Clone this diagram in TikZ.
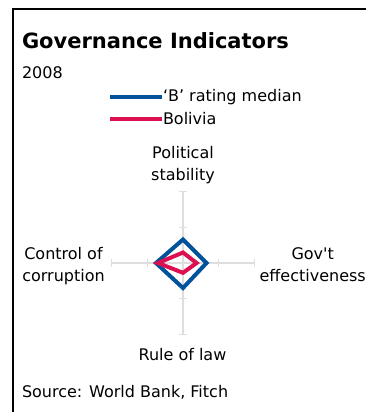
\documentclass[tikz,border=0pt]{standalone}
\usepackage{fontspec}
\setmainfont{DejaVu Sans}
\definecolor{medblue}{RGB}{0,82,155}
\definecolor{bolred}{RGB}{220,16,80}
\definecolor{axisgray}{RGB}{222,222,222}

\begin{document}
\begin{tikzpicture}[x=1pt, y=-1pt,
  every node/.style={inner sep=0pt, outer sep=0pt, font=\fontsize{16}{21.8}\selectfont},
  axisline/.style={draw=axisgray, line width=1.5pt},
  medianline/.style={draw=medblue, line width=4pt},
  bolivialine/.style={draw=bolred, line width=4pt}]
  \useasboundingbox (0,0) rectangle (366,412);

  % Frame
  \draw[line width=1.5pt] (13,412) -- (13,9) -- (366,9);

  % Title
  \node[anchor=base west, font=\fontsize{21}{25}\selectfont\bfseries] (title) at (22,48.3) {Governance Indicators};
  \node[anchor=base west] (year) at (22,78.5) {2008};

  % Legend
  \draw[medianline] (110,96.7) -- (162,96.7);
  \node[anchor=base west] (legmedian) at (163,101.7) {‘B’ rating median};
  \draw[bolivialine] (110,119) -- (162,119);
  \node[anchor=base west] (legbolivia) at (163,124.5) {Bolivia};

  % Axes
  \draw[axisline] (111.6,263) -- (254.4,263);
  \draw[axisline] (183,191.6) -- (183,334.4);
  % Ticks (horizontal axis)
  \draw[axisline] (111.6,259) -- (111.6,267);
  \draw[axisline] (147.3,259) -- (147.3,267);
  \draw[axisline] (218.7,259) -- (218.7,267);
  \draw[axisline] (254.4,259) -- (254.4,267);
  % Ticks (vertical axis)
  \draw[axisline] (179,191.6) -- (187,191.6);
  \draw[axisline] (179,227.3) -- (187,227.3);
  \draw[axisline] (179,298.7) -- (187,298.7);
  \draw[axisline] (179,334.4) -- (187,334.4);

  % Axis labels (base = last line)
  \node[anchor=base, align=center] (polstab) at (183,180) {Political\\stability};
  \node[anchor=base, align=center] (corrupt) at (63.5,281.5) {Control of\\corruption};
  \node[anchor=base, align=center] (goveff) at (312.7,281.5) {Gov\textquotesingle t\\effectiveness};
  \node[anchor=base] (rulelaw) at (182.5,360) {Rule of law};

  % 'B' rating median
  \draw[medianline] (183,239.5) -- (206.5,263) -- (183,288) -- (156,263) -- cycle;
  % Bolivia
  \draw[bolivialine] (183,252.5) -- (196.6,263) -- (183,272.8) -- (158,263) -- cycle;

  % Source
  \node[anchor=base west] (source) at (22,397.3) {Source: World Bank, Fitch};
\end{tikzpicture}
\end{document}
